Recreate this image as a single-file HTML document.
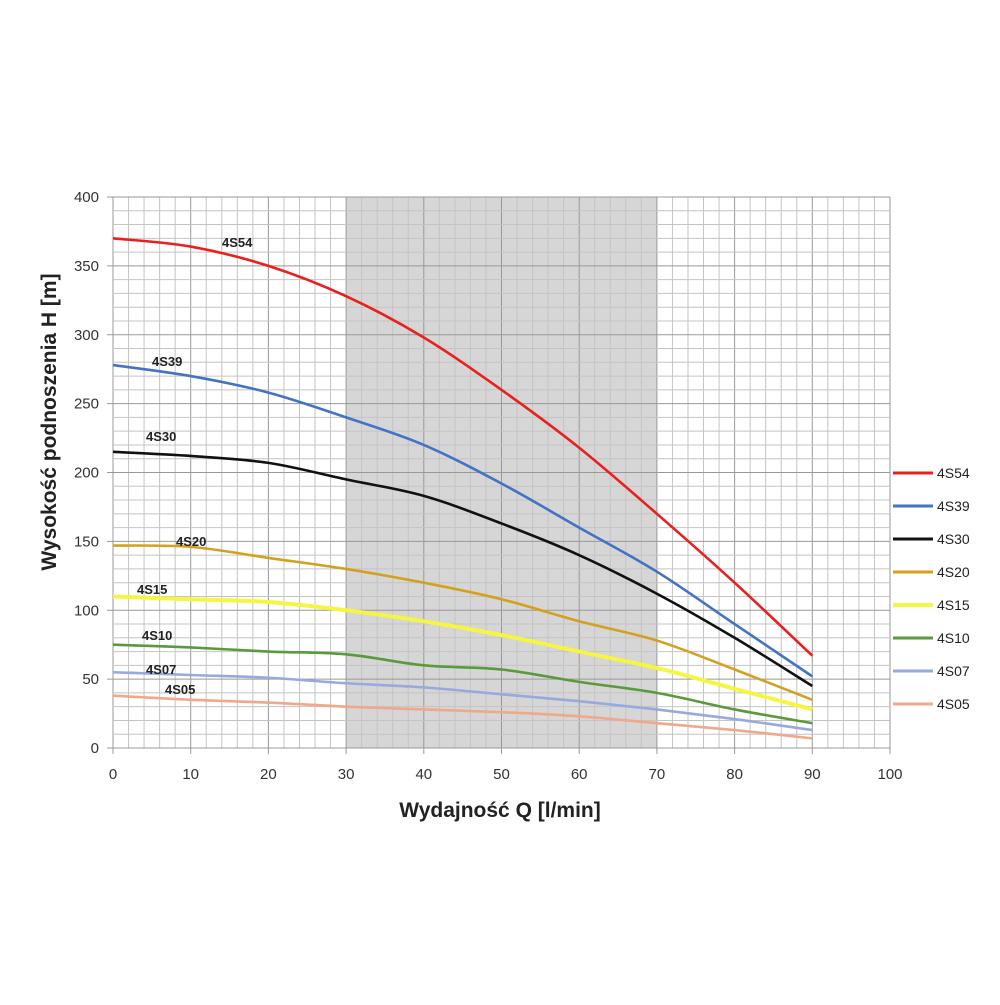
<!DOCTYPE html>
<html><head><meta charset="utf-8"><style>
body{margin:0;background:#fff;}
svg text{font-family:"Liberation Sans",sans-serif;}
</style></head><body>
<svg id="s" width="1000" height="1000" xmlns="http://www.w3.org/2000/svg">
<rect width="1000" height="1000" fill="#fff"/>
<rect x="346" y="197" width="311" height="551" fill="#d6d6d6"/>
<g id="grid"></g>
<g id="curves" fill="none" stroke-width="2.6"></g>
<g font-size="13" font-weight="bold" fill="#222">
<text x="222" y="247">4S54</text>
<text x="152" y="366">4S39</text>
<text x="146" y="441">4S30</text>
<text x="176" y="546">4S20</text>
<text x="137" y="594">4S15</text>
<text x="142" y="640">4S10</text>
<text x="146" y="674">4S07</text>
<text x="165" y="694">4S05</text>
</g>
<g id="legend" font-size="14" fill="#222"></g>
<g id="ticks" font-size="15" fill="#333"></g>
<text x="500" y="817" text-anchor="middle" font-size="21" font-weight="bold" fill="#222">Wydajność Q [l/min]</text>
<text transform="translate(56,422) rotate(-90)" text-anchor="middle" font-size="21" font-weight="bold" fill="#222">Wysokość podnoszenia H [m]</text>
</svg>
<script>
const NS="http://www.w3.org/2000/svg";
const X=q=>113+7.77*q, Y=h=>748-1.3775*h;
function el(p,t,a,txt){const e=document.createElementNS(NS,t);for(const k in a)e.setAttribute(k,a[k]);if(txt!==undefined)e.textContent=txt;document.getElementById(p).appendChild(e);}
for(let q=0;q<=100;q+=2){const maj=q%10==0;el("grid","line",{x1:X(q),x2:X(q),y1:197,y2:maj?754:748,stroke:maj?"#999":"#c4c4c4","stroke-width":1});}
for(let h=0;h<=400;h+=10){const maj=h%50==0;el("grid","line",{x1:maj?107:113,x2:890,y1:Y(h),y2:Y(h),stroke:maj?"#999":"#c4c4c4","stroke-width":1});}
for(let q=0;q<=100;q+=10)el("ticks","text",{x:X(q),y:779,"text-anchor":"middle"},q);
for(let h=0;h<=400;h+=50)el("ticks","text",{x:99,y:Y(h)+5,"text-anchor":"end"},h);
const S=[
["4S54","#e8201e",[370,364,350,328,298,260,218,170,120,67]],
["4S39","#4472c4",[278,270,258,240,220,192,160,128,90,52]],
["4S30","#111",[215,212,207,195,183,163,140,112,80,45]],
["4S20","#d4a020",[147,146,138,130,120,108,92,78,57,35]],
["4S15","#f5f542",[110,108,106,100,92,82,70,58,43,28]],
["4S10","#5a9a3c",[75,73,70,68,60,57,48,40,28,18]],
["4S07","#97a9dd",[55,53,51,47,44,39,34,28,21,13]],
["4S05","#f0a88c",[38,35,33,30,28,26,23,18,13,7]]];
S.forEach((s,i)=>{
 const p=s[2].map((h,j)=>[X(j*10),Y(h)]);
 let d="M"+p[0];
 for(let j=0;j<p.length-1;j++){const p0=p[Math.max(j-1,0)],p1=p[j],p2=p[j+1],p3=p[Math.min(j+2,p.length-1)];
  d+=` C${p1[0]+(p2[0]-p0[0])/6},${p1[1]+(p2[1]-p0[1])/6} ${p2[0]-(p3[0]-p1[0])/6},${p2[1]-(p3[1]-p1[1])/6} ${p2[0]},${p2[1]}`;}
 el("curves","path",{d:d,stroke:s[1],"stroke-width":s[0]=="4S15"?4:2.6});
 const ly=473+i*33;
 el("legend","line",{x1:893,x2:933,y1:ly,y2:ly,stroke:s[1],"stroke-width":s[0]=="4S15"?4:3});
 el("legend","text",{x:937,y:ly+5},s[0]);
});
</script>
</body></html>
